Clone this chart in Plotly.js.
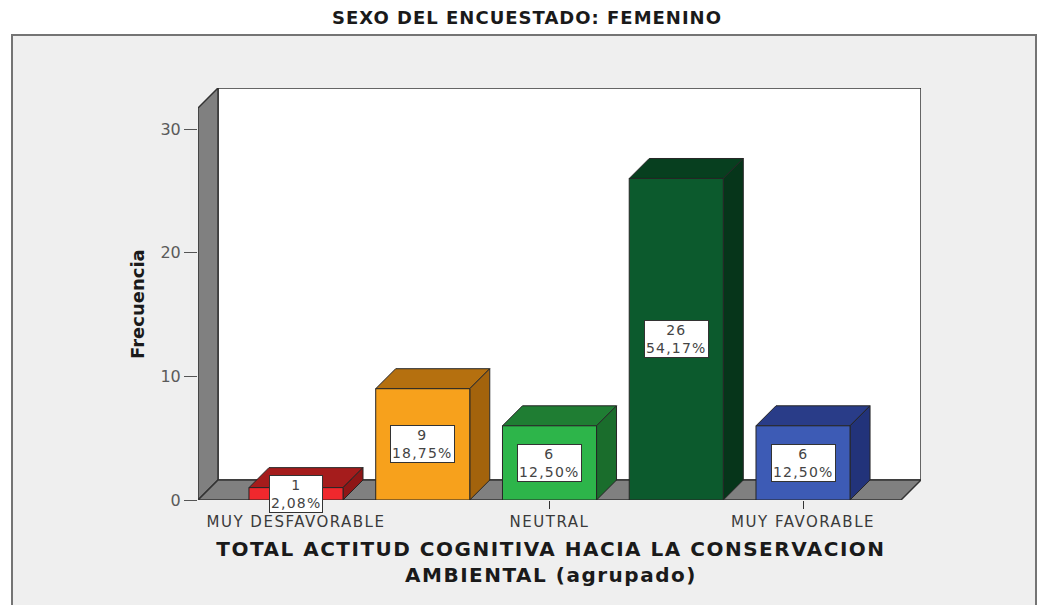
<!DOCTYPE html>
<html>
<head>
<meta charset="utf-8">
<script src="https://cdn.plot.ly/plotly-3.0.1.min.js"></script>
<style>
  html, body { margin: 0; padding: 0; background: #ffffff; }
  #chart { width: 1045px; height: 605px; }
  .xtick text { letter-spacing: 1.5px; }
  .annotation-text { letter-spacing: 1.2px; }
  .annotation[data-index="5"] .annotation-text { letter-spacing: 1.5px; }
  .annotation[data-index="6"] .annotation-text { letter-spacing: 0px; }
  .gtitle { letter-spacing: 1px; }
</style>
</head>
<body>
<div id="chart"></div>
<script>
// ---- data ----
const categories = ["MUY DESFAVORABLE", "DESFAVORABLE", "NEUTRAL", "FAVORABLE", "MUY FAVORABLE"];
const frequencies = [1, 9, 6, 26, 6];
const tickLabels = ["MUY DESFAVORABLE", "NEUTRAL", "MUY FAVORABLE"];
const frontColors = ["#f0282d", "#f7a11c", "#2db54a", "#0c5a2d", "#3d5bb5"];
const topColors   = ["#a51c1c", "#b5700f", "#1f7d33", "#073f1f", "#293c88"];
const sideColors  = ["#8e1616", "#a3630c", "#1a6d2c", "#06351a", "#22337a"];
const chartTitle = "SEXO DEL ENCUESTADO: FEMENINO";
const xTitle = "TOTAL ACTITUD COGNITIVA HACIA LA CONSERVACION<br>AMBIENTAL (agrupado)";
const yTitle = "Frecuencia";

// ---- geometry of the pseudo-3D frame ----
const W = 1045, H = 605;
const margin = {l: 198, r: 124, t: 88, b: 105};
const plotW = W - margin.l - margin.r;   // 723
const plotH = H - margin.t - margin.b;   // 412
const depthPx = 20;
const xFront = [-0.773, 4.773];
const yFrontTop = 31.7;
const pxX = (plotW - depthPx) / (xFront[1] - xFront[0]);
const pxY = (plotH - depthPx) / yFrontTop;
const dx = depthPx / pxX;
const dy = depthPx / pxY;
const barWidth = 0.742;
const hw = barWidth / 2;

const total = frequencies.reduce((a, b) => a + b, 0);
const pctText = frequencies.map(f => (f / total * 100).toFixed(2).replace('.', ',') + '%');

const edge = {color: '#262626', width: 1};
const shapes = [];
// outer frame (paper coordinates)
shapes.push({
  type: 'rect', xref: 'paper', yref: 'paper', layer: 'below',
  x0: (12 - margin.l) / plotW, x1: (1036 - margin.l) / plotW,
  y0: (margin.t + plotH - 612) / plotH, y1: (margin.t + plotH - 35) / plotH,
  fillcolor: '#efefef', line: {color: '#747474', width: 2}
});
// back wall
shapes.push({
  type: 'rect', xref: 'x', yref: 'y', layer: 'below',
  x0: xFront[0] + dx, x1: xFront[1] + dx, y0: dy, y1: yFrontTop + dy,
  fillcolor: '#ffffff', line: {color: '#333333', width: 1.5}
});
// left wall
shapes.push({
  type: 'path', xref: 'x', yref: 'y', layer: 'below',
  path: `M${xFront[0]},0 L${xFront[0]},${yFrontTop} L${xFront[0] + dx},${yFrontTop + dy} L${xFront[0] + dx},${dy} Z`,
  fillcolor: '#808080', line: {color: '#333333', width: 1.5}
});
// floor
shapes.push({
  type: 'path', xref: 'x', yref: 'y', layer: 'below',
  path: `M${xFront[0]},0 L${xFront[1]},0 L${xFront[1] + dx},${dy} L${xFront[0] + dx},${dy} Z`,
  fillcolor: '#808080', line: {color: '#333333', width: 1.5}
});
// bar top and side faces
frequencies.forEach((v, i) => {
  shapes.push({
    type: 'path', xref: 'x', yref: 'y', layer: 'below',
    path: `M${i - hw},${v} L${i + hw},${v} L${i + hw + dx},${v + dy} L${i - hw + dx},${v + dy} Z`,
    fillcolor: topColors[i], line: edge
  });
  shapes.push({
    type: 'path', xref: 'x', yref: 'y', layer: 'below',
    path: `M${i + hw},0 L${i + hw},${v} L${i + hw + dx},${v + dy} L${i + hw + dx},${dy} Z`,
    fillcolor: sideColors[i], line: edge
  });
});

// value labels
const annotations = frequencies.map((v, i) => ({
  x: categories[i], y: v / 2, xref: 'x', yref: 'y',
  text: v + '<br>' + pctText[i], showarrow: false,
  bgcolor: '#ffffff', bordercolor: '#333333', borderwidth: 1, borderpad: 1,
  font: {family: 'DejaVu Sans', size: 14, color: '#444444'},
  xanchor: 'center', yanchor: 'middle'
}));
// axis titles as annotations (centered on the front plane)
annotations.push({
  xref: 'paper', yref: 'paper',
  x: (551 - margin.l) / plotW, y: (margin.t + plotH - 562) / plotH,
  text: xTitle, showarrow: false, xanchor: 'center', yanchor: 'middle',
  font: {family: 'DejaVu Sans', size: 20, color: '#1a1a1a', weight: 'bold'}
});
annotations.push({
  xref: 'paper', yref: 'paper',
  x: (137 - margin.l) / plotW, y: (margin.t + plotH - 304) / plotH,
  text: yTitle, showarrow: false, textangle: -90, xanchor: 'center', yanchor: 'middle',
  font: {family: 'DejaVu Sans', size: 18, color: '#1a1a1a', weight: 'bold'}
});

const trace = {
  type: 'bar',
  x: categories,
  y: frequencies,
  width: barWidth,
  marker: {color: frontColors, line: edge},
  hoverinfo: 'x+y'
};

const layout = {
  width: W, height: H,
  margin: {l: margin.l, r: margin.r, t: margin.t, b: margin.b, pad: 0},
  paper_bgcolor: '#ffffff',
  plot_bgcolor: 'rgba(0,0,0,0)',
  showlegend: false,
  title: {
    text: chartTitle,
    x: 527 / W, xanchor: 'center', xref: 'container',
    y: 1 - 18 / H, yanchor: 'middle', yref: 'container',
    font: {family: 'DejaVu Sans', size: 18, color: '#1a1a1a', weight: 'bold'}
  },
  xaxis: {
    type: 'category',
    categoryorder: 'array', categoryarray: categories,
    range: [xFront[0], xFront[1] + dx],
    tickmode: 'array', tickvals: tickLabels, ticktext: tickLabels,
    ticks: 'outside', ticklen: 8, tickwidth: 1, tickcolor: '#333333',
    showline: false, showgrid: false, zeroline: false,
    tickfont: {family: 'DejaVu Sans', size: 15, color: '#3a3a3a'},
    fixedrange: true
  },
  yaxis: {
    range: [0, yFrontTop + dy],
    tickmode: 'array', tickvals: [0, 10, 20, 30],
    ticks: 'outside', ticklen: 13, tickwidth: 1, tickcolor: '#555555',
    showline: false, showgrid: false, zeroline: false,
    tickfont: {family: 'DejaVu Sans', size: 16, color: '#5a5a5a'},
    fixedrange: true
  },
  shapes: shapes,
  annotations: annotations
};

Plotly.newPlot('chart', [trace], layout, {displayModeBar: false, staticPlot: true});
</script>
</body>
</html>
